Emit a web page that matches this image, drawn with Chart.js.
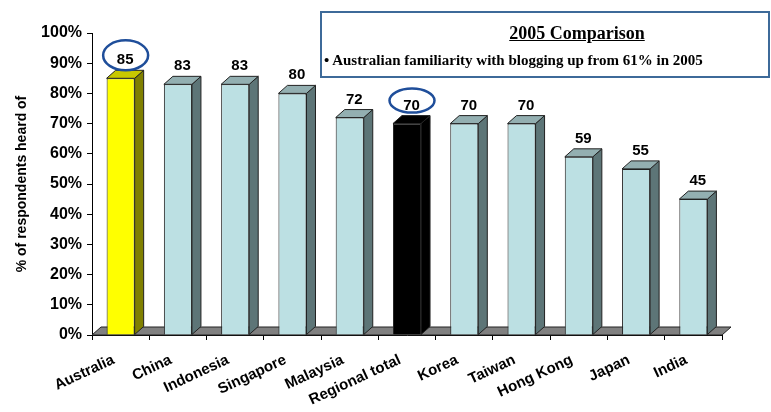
<!DOCTYPE html>
<html><head><meta charset="utf-8">
<script src="https://cdn.jsdelivr.net/npm/chart.js@4/dist/chart.umd.min.js"></script>
<style>
html,body{margin:0;padding:0;background:#fff;}
#wrap{position:relative;width:771px;height:412px;overflow:hidden;}
#box{position:absolute;left:320px;top:11px;width:446px;height:63px;border:2px solid #3d6a99;background:#fff;font-family:"Liberation Serif","Times New Roman",serif;font-weight:bold;color:#000;}
#box .t{position:absolute;left:0;top:11px;width:510px;text-align:center;font-size:18px;line-height:19px;text-decoration:underline;}
#box .b{position:absolute;left:2px;top:39px;font-size:15px;line-height:16px;white-space:nowrap;}
</style>
</head><body>
<div id="wrap">
<canvas id="c" width="771" height="412"></canvas>
<div id="box"><div class="t">2005 Comparison</div><div class="b">• Australian familiarity with blogging up from 61% in 2005</div></div>
</div>
<script>
const categories = ['Australia','China','Indonesia','Singapore','Malaysia','Regional total','Korea','Taiwan','Hong Kong','Japan','India'];
const heardOfPct = [85,83,83,80,72,70,70,70,59,55,45];
const yTickValues = [0,10,20,30,40,50,60,70,80,90,100];
const highlighted = ['Australia','Regional total'];
const yAxisTitle = '% of respondents heard of';

const DX = 9, DY = 8;
const FONT = '"Liberation Sans", Arial, sans-serif';
function faceColors(cat){
  if (cat === 'Australia') return {front:'#ffff00', side:'#808000', top:'#c8c800'};
  if (cat === 'Regional total') return {front:'#000000', side:'#000000', top:'#000000'};
  return {front:'#bce0e3', side:'#5d7577', top:'#93afb1'};
}
const ellipseSize = {'Australia':{rx:22.5, ry:15}, 'Regional total':{rx:22.5, ry:12}};

function poly(ctx, pts, fill){
  ctx.beginPath();
  ctx.moveTo(pts[0][0], pts[0][1]);
  for (let i=1;i<pts.length;i++) ctx.lineTo(pts[i][0], pts[i][1]);
  ctx.closePath();
  ctx.fillStyle = fill; ctx.fill();
  ctx.strokeStyle = '#222'; ctx.lineWidth = 1; ctx.stroke();
}

const threeD = {
  id:'threeD',
  beforeDatasetsDraw(chart){
    const ctx = chart.ctx, a = chart.chartArea;
    const yb = chart.scales.y.getPixelForValue(0);
    ctx.save();
    poly(ctx, [[a.left,yb],[a.left+DX,yb-DY],[a.right+DX,yb-DY],[a.right,yb]], '#808080');
    ctx.restore();
  },
  afterDatasetsDraw(chart){
    const ctx = chart.ctx;
    const meta = chart.getDatasetMeta(0);
    ctx.save();
    meta.data.forEach((bar,i)=>{
      const p = bar.getProps(['x','y','base','width'], true);
      const l = p.x - p.width/2, r = p.x + p.width/2;
      const c = faceColors(categories[i]);
      poly(ctx, [[r,p.y],[r+DX,p.y-DY],[r+DX,p.base-DY],[r,p.base]], c.side);
      poly(ctx, [[l,p.y],[l+DX,p.y-DY],[r+DX,p.y-DY],[r,p.y]], c.top);
      const lx = p.x + DX/2, ly = p.y - DY - 6;
      ctx.fillStyle = '#000';
      ctx.font = 'bold 15px ' + FONT;
      ctx.textAlign = 'center';
      ctx.textBaseline = 'alphabetic';
      ctx.fillText(String(heardOfPct[i]), lx, ly);
      if (highlighted.includes(categories[i])) {
        const e = ellipseSize[categories[i]];
        ctx.beginPath();
        ctx.ellipse(lx + 0.5, ly - 9, e.rx, e.ry, 0, 0, Math.PI*2);
        ctx.strokeStyle = '#1f4e9a';
        ctx.lineWidth = 2.5;
        ctx.stroke();
      }
    });
    ctx.restore();
  }
};

new Chart(document.getElementById('c'), {
  type:'bar',
  data:{
    labels: categories,
    datasets:[{
      data: heardOfPct,
      backgroundColor: categories.map(c=>faceColors(c).front),
      borderColor:'#222',
      borderWidth:1,
      barPercentage:0.49,
      categoryPercentage:1
    }]
  },
  options:{
    responsive:false,
    animation:false,
    layout:{padding:{top:33, right:49, left:0, bottom:0}},
    plugins:{legend:{display:false}, tooltip:{enabled:false}},
    scales:{
      x:{
        grid:{display:true, drawOnChartArea:false, drawTicks:true, tickLength:5, color:'#000', offset:true},
        border:{display:true, color:'#000', width:1},
        ticks:{autoSkip:false, minRotation:25, maxRotation:25, padding:11, labelOffset:-7, color:'#000', font:{family:FONT, size:15, weight:'bold'}},
        afterFit(s){ s.height = 77; }
      },
      y:{
        min:0, max:100,
        afterBuildTicks(s){ s.ticks = yTickValues.map(v=>({value:v})); },
        grid:{display:true, drawOnChartArea:false, drawTicks:true, tickLength:5, color:'#000'},
        border:{display:true, color:'#000', width:1},
        ticks:{padding:5, color:'#000', font:{family:FONT, size:16, weight:'bold'}, callback:v=>v+'%'},
        title:{display:true, text:yAxisTitle, color:'#000', font:{family:FONT, size:14, weight:'bold'}, padding:{top:14, bottom:0}},
        afterFit(s){ s.width = 92; }
      }
    }
  },
  plugins:[threeD]
});
</script>
</body></html>
